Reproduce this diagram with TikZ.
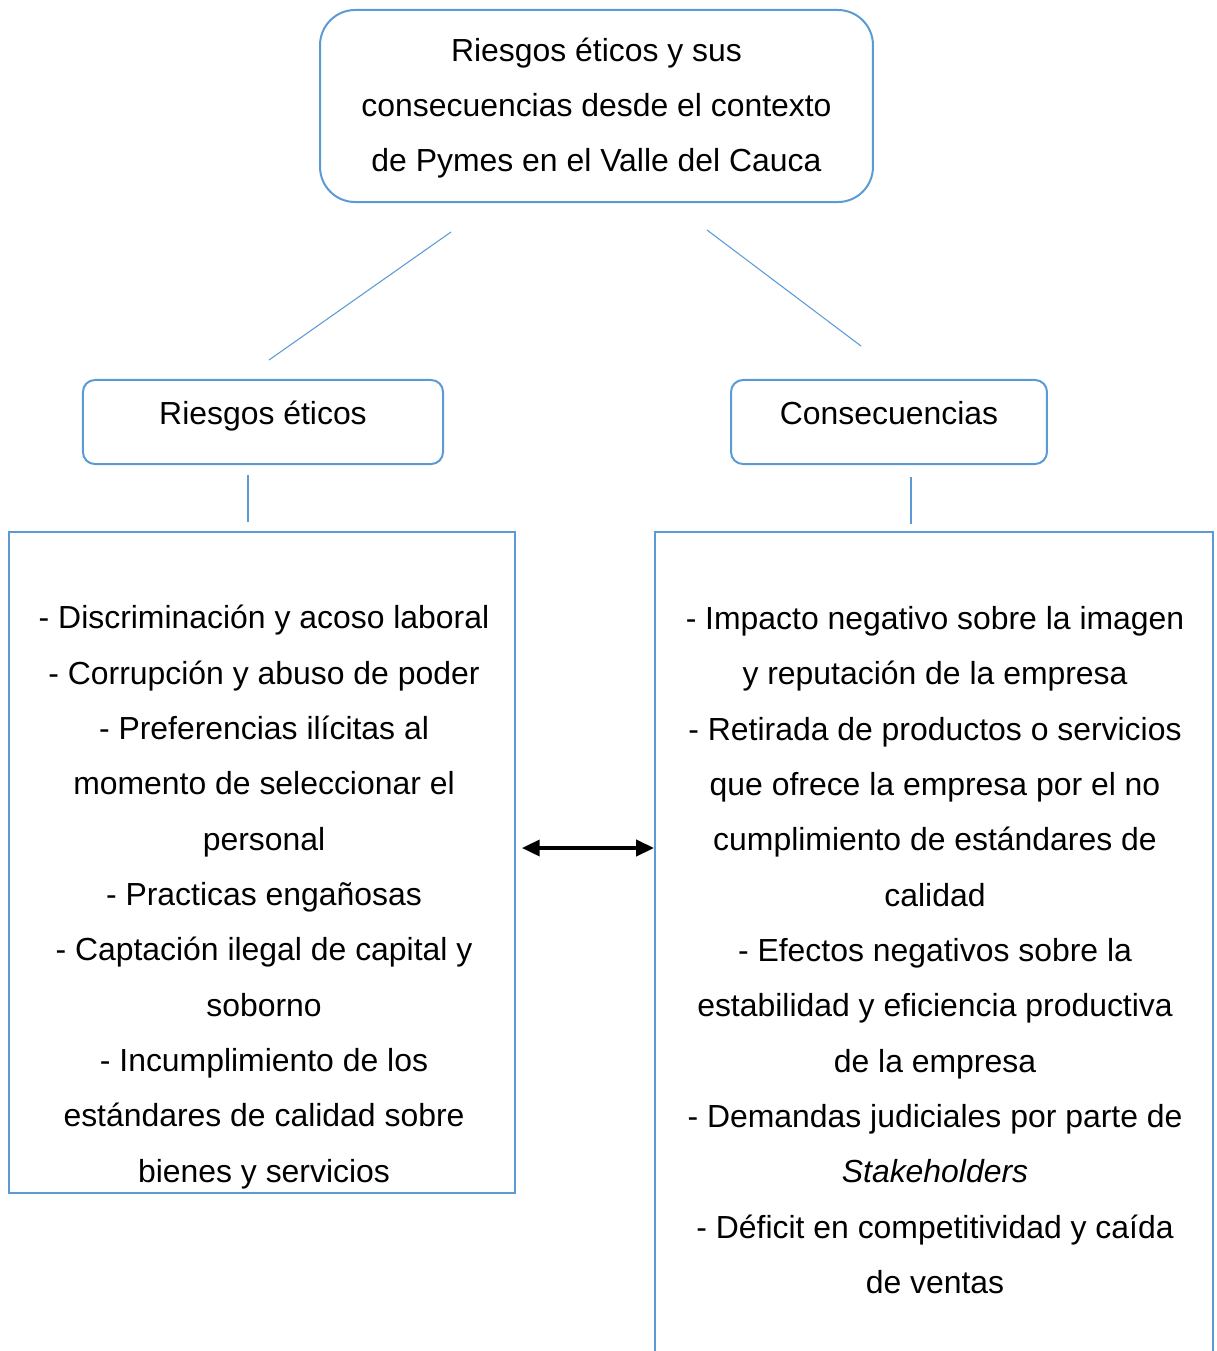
\documentclass[tikz,border=0pt]{standalone}
\usepackage{fontspec}
\setmainfont{Liberation Sans}
\usetikzlibrary{arrows.meta}
\definecolor{boxblue}{RGB}{91,155,213}
\begin{document}
\begin{tikzpicture}[x=0.376pt, y=-0.376pt,
        txt/.style={font=\fontsize{12}{20.8}\selectfont, align=center, inner sep=0pt},
        roundbox/.style={draw=boxblue, line width=0.75pt, rounded corners=#1, txt},
        listbox/.style={draw=boxblue, line width=0.75pt},
        link/.style={draw=boxblue, line width=0.4pt}]
    \useasboundingbox (0, 0) rectangle (1217, 1351);
    \clip (0, 0) rectangle (1217, 1351);

    \node[roundbox=13.2pt, minimum width=207.9pt, minimum height=72.2pt, text depth=1pt] (title) at (596.5, 106)
        {Riesgos éticos y sus\\ consecuencias desde el contexto\\ de Pymes en el Valle del Cauca};

    \node[roundbox=4.5pt, minimum width=135.4pt, minimum height=31.6pt, text height=6.6pt, text depth=4.4pt] (risk) at (263, 422) {Riesgos éticos};
    \node[roundbox=4.5pt, minimum width=118.8pt, minimum height=31.6pt, text height=6.6pt, text depth=4.4pt] (cons) at (889, 422) {Consecuencias};

    \node[listbox, minimum width=190.3pt, minimum height=248.5pt] (riskbox) at (262, 862.5) {};
    \node[listbox, minimum width=209.8pt, minimum height=326.4pt] (consbox) at (934, 966) {};

    \node[txt] (risktext) at (264, 897) {- Discriminación y acoso laboral\\
        - Corrupción y abuso de poder\\
        - Preferencias ilícitas al\\ momento de seleccionar el\\ personal\\
        - Practicas engañosas\\
        - Captación ilegal de capital y\\ soborno\\
        - Incumplimiento de los\\ estándares de calidad sobre\\ bienes y servicios};
    \node[txt] (constext) at (935, 950) {- Impacto negativo sobre la imagen\\ y reputación de la empresa\\
        - Retirada de productos o servicios\\ que ofrece la empresa por el no\\ cumplimiento de estándares de\\ calidad\\
        - Efectos negativos sobre la\\ estabilidad y eficiencia productiva\\ de la empresa\\
        - Demandas judiciales por parte de\\ \textit{Stakeholders}\\
        - Déficit en competitividad y caída\\ de ventas};

    % lines
    \coordinate (titleL) at (451, 232);
    \coordinate (riskU) at (269, 360);
    \coordinate (titleR) at (707, 230);
    \coordinate (consU) at (861, 346);
    \coordinate (riskD) at (248, 475);
    \coordinate (riskboxU) at (248, 522);
    \coordinate (consD) at (911, 477);
    \coordinate (consboxU) at (911, 524);
    \draw[link] (titleL) -- (riskU);
    \draw[link] (titleR) -- (consU);
    \draw[link] (riskD) -- (riskboxU);
    \draw[link] (consD) -- (consboxU);

    \coordinate (mid) at (588, 848);
    \draw[{Triangle[length=6.7pt,width=6pt]}-{Triangle[length=6.7pt,width=6pt]}, line width=1.4pt, shorten <=2.2pt]
        (riskbox.east |- mid) -- (consbox.west |- mid);
\end{tikzpicture}
\end{document}
